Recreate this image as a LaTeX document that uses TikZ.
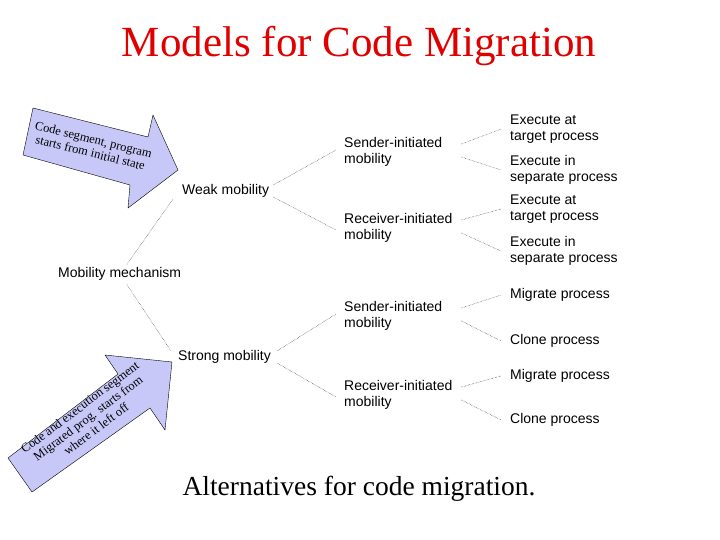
\documentclass[tikz,border=0pt]{standalone}
\usepackage{fontspec}
\setmainfont{Liberation Serif}
\setsansfont{Liberation Sans}
\definecolor{titleColor}{HTML}{E00000}
\definecolor{arrowColor}{HTML}{C8C8F8}
\tikzset{
	lab/.style={font=\sffamily\fontsize{14}{16.5}\selectfont, inner sep=1pt, anchor=west, align=left},
	link/.style={densely dotted, thin},
	bigarrow/.style={draw, thin, fill=arrowColor}
}
\begin{document}
\begin{tikzpicture}[x=1pt, y=-1pt]
		\useasboundingbox (0,0) rectangle (720,540);
		\node[font=\fontsize{43}{48}\selectfont, text=titleColor] (title) at (359,46) {Models for Code Migration};
		% the two big arrows
		\draw[bigarrow] (33,108) -- (148,137) -- (153,115) -- (178,170) -- (128,208) -- (130,185) -- (23,155) -- cycle;
		\node[rotate=-14, font=\fontsize{12.5}{13.5}\selectfont, align=center] (weaknote) at (92,146) {Code segment, program\\starts from initial state};
		\draw[bigarrow] (8,458) -- (118,374) -- (105,355) -- (172,362) -- (165,430) -- (150,408) -- (32,492) -- cycle;
		\node[rotate=37, font=\fontsize{12.5}{13.5}\selectfont, align=center] (strongnote) at (88,418) {Code and execution segment\\Migrated prog. starts from\\where it left off};
		% tree
		\node[lab] (mech) at (57,274) {Mobility mechanism};
		\node[lab] (weak) at (181,191) {Weak mobility};
		\node[lab] (strong) at (177,357) {Strong mobility};
		\node[lab, text width=116pt] (snd1) at (343,152) {Sender-initiated\\mobility};
		\node[lab, text width=116pt] (rcv1) at (343,228) {Receiver-initiated\\mobility};
		\node[lab, text width=116pt] (snd2) at (343,316) {Sender-initiated\\mobility};
		\node[lab, text width=116pt] (rcv2) at (343,395) {Receiver-initiated\\mobility};
		\node[lab] (ex1) at (509,129) {Execute at\\target process};
		\node[lab] (sep1) at (509,170) {Execute in\\separate process};
		\node[lab] (ex2) at (509,209) {Execute at\\target process};
		\node[lab] (sep2) at (509,251) {Execute in\\separate process};
		\node[lab] (mig1) at (509,295) {Migrate process};
		\node[lab] (cln1) at (509,341) {Clone process};
		\node[lab] (mig2) at (509,376) {Migrate process};
		\node[lab] (cln2) at (509,420) {Clone process};
		\draw[link] ([xshift=70,yshift=2]mech.north west) -- ([xshift=-8,yshift=-8]weak.west);
		\draw[link] ([xshift=70,yshift=-3]mech.south west) -- ([xshift=-6,yshift=6]strong.west);
		\draw[link] ([xshift=3,yshift=6]weak.east) -- ([xshift=-7,yshift=2]snd1.west);
		\draw[link] ([xshift=3,yshift=-6]weak.east) -- ([xshift=-7,yshift=-2]rcv1.west);
		\draw[link] ([xshift=5,yshift=6]strong.east) -- ([xshift=-7,yshift=2]snd2.west);
		\draw[link] ([xshift=5,yshift=-6]strong.east) -- ([xshift=-7,yshift=-2]rcv2.west);
		\foreach \src/\up/\down in {snd1/ex1/sep1, rcv1/ex2/sep2, snd2/mig1/cln1, rcv2/mig2/cln2} {
			\draw[link] ([yshift=8]\src.east) -- ([xshift=-8]\up.west);
			\draw[link] ([yshift=-5]\src.east) -- ([xshift=-8]\down.west);
		}
		\node[font=\fontsize{27.5}{32}\selectfont] (caption) at (359,489) {Alternatives for code migration.};
	\end{tikzpicture}
\end{document}
